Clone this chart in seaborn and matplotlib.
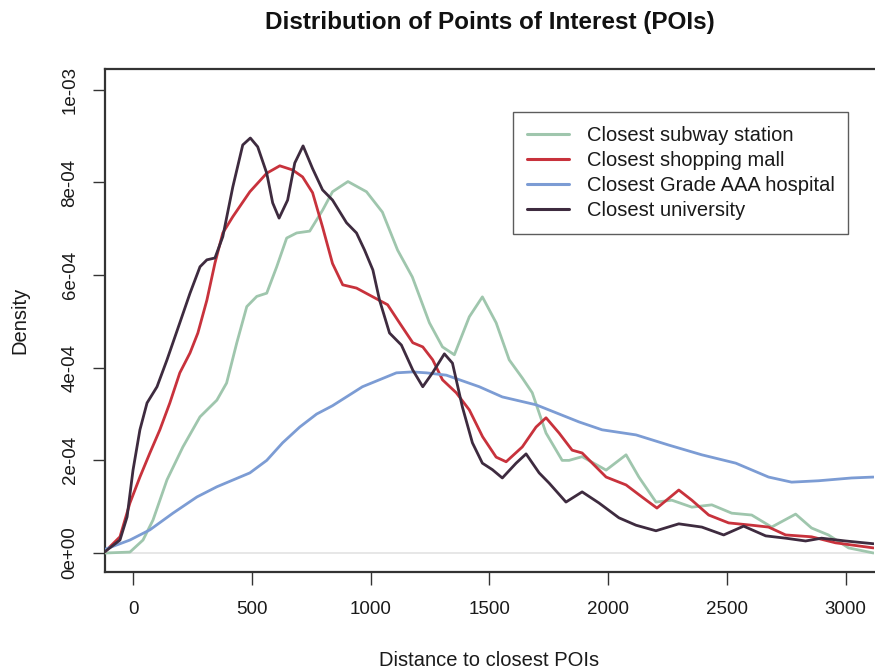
import matplotlib
matplotlib.use("Agg")
import matplotlib.pyplot as plt
import numpy as np
import pandas as pd
import seaborn as sns

# ---- data (density values in units of 1e-4) ----
series_names = ["Closest subway station", "Closest shopping mall",
                "Closest Grade AAA hospital", "Closest university"]

subway_x = [-118, -13, 42, 84, 143, 210, 282, 353, 394, 437, 479, 521, 563, 605, 647, 689,
            744, 798, 840, 905, 983, 1050, 1114, 1176, 1248, 1303, 1353, 1416,
            1471, 1529, 1584, 1639, 1681, 1739, 1807, 1836, 1891, 1992, 2076, 2130,
            2202, 2269, 2353, 2437, 2521, 2605, 2689, 2790, 2857, 2928, 3013, 3118]
subway_y = [0.0, 0.02, 0.28, 0.71, 1.58, 2.29, 2.94, 3.3, 3.67, 4.54, 5.32, 5.54, 5.61, 6.18,
            6.8, 6.91, 6.95, 7.4, 7.8, 8.02, 7.8, 7.36, 6.54, 5.96, 4.97, 4.45, 4.28, 5.1,
            5.53, 4.97, 4.17, 3.78, 3.46, 2.59, 2.0, 2.0, 2.08, 1.79, 2.12, 1.64,
            1.1, 1.14, 0.99, 1.04, 0.86, 0.82, 0.56, 0.84, 0.54, 0.39, 0.11, 0.0]

mall_x = [-118, -55, -13, 29, 71, 113, 155, 197, 240, 273, 311, 345, 378, 420, 492, 563, 618,
          672, 714, 756, 798, 840, 883, 941, 1010, 1072, 1122, 1178, 1220, 1262, 1303, 1361,
          1416, 1472, 1529, 1571, 1639, 1697, 1739, 1794, 1849, 1891, 1992, 2076, 2143, 2206,
          2298, 2353, 2424, 2508, 2605, 2676, 2748, 2857, 2958, 3118]
mall_y = [0.03, 0.35, 1.08, 1.64, 2.16, 2.66, 3.24, 3.89, 4.32, 4.75, 5.46, 6.26, 6.91, 7.26,
          7.8, 8.2, 8.36, 8.27, 8.12, 7.78, 7.04, 6.25, 5.79, 5.72, 5.53, 5.36, 4.97, 4.54,
          4.45, 4.17, 3.74, 3.46, 3.09, 2.51, 2.07, 1.97, 2.29, 2.72, 2.92, 2.59, 2.22, 2.16,
          1.64, 1.47, 1.21, 0.97, 1.36, 1.14, 0.82, 0.65, 0.6, 0.56, 0.39, 0.35, 0.22, 0.11]

hospital_x = [-118, -13, 71, 168, 269, 353, 492, 563, 630, 702, 773, 840, 966, 1109, 1176,
              1235, 1319, 1458, 1555, 1697, 1878, 1975, 2118, 2256, 2395, 2538, 2676,
              2773, 2887, 3025, 3118]
hospital_y = [0.08, 0.28, 0.5, 0.86, 1.21, 1.43, 1.73, 2.0, 2.38, 2.72, 3.0, 3.18, 3.59, 3.89,
              3.91, 3.89, 3.84, 3.59, 3.37, 3.2, 2.83, 2.66, 2.55, 2.33, 2.12, 1.94, 1.64,
              1.53, 1.56, 1.62, 1.64]

university_x = [-118, -55, -25, 0, 29, 59, 101, 143, 197, 240, 282, 311, 345, 378, 420, 462,
                494, 525, 563, 588, 615, 651, 681, 716, 756, 798, 840, 899, 941, 975, 1010,
                1038, 1080, 1130, 1178, 1220, 1261, 1311, 1345, 1387, 1429, 1471, 1513, 1555,
                1613, 1655, 1710, 1752, 1823, 1891, 1962, 2046, 2118, 2202, 2298, 2395, 2487,
                2571, 2664, 2748, 2832, 2899, 3000, 3118]
university_y = [0.03, 0.28, 0.78, 1.79, 2.66, 3.24, 3.59, 4.17, 4.97, 5.61, 6.18, 6.33, 6.37,
                6.83, 7.9, 8.81, 8.96, 8.77, 8.2, 7.56, 7.23, 7.62, 8.42, 8.79, 8.3, 7.84, 7.62,
                7.13, 6.91, 6.54, 6.11, 5.46, 4.75, 4.49, 3.95, 3.59, 3.89, 4.3, 4.1, 3.15,
                2.38, 1.94, 1.8, 1.62, 1.94, 2.14, 1.73, 1.51, 1.1, 1.32, 1.08, 0.76, 0.6,
                0.48, 0.63, 0.56, 0.39, 0.58, 0.37, 0.32, 0.26, 0.32, 0.26, 0.2]

x_ticks = [0, 500, 1000, 1500, 2000, 2500, 3000]
y_ticks = [0.0, 2e-4, 4e-4, 6e-4, 8e-4, 1e-3]
y_tick_labels = ["0e+00", "2e-04", "4e-04", "6e-04", "8e-04", "1e-03"]
colors = ["#9fc6ad", "#c8323c", "#7c9cd4", "#3e2b3f"]

# ---- table ----
frames = []
for name, xs, ys in zip(series_names,
                        [subway_x, mall_x, hospital_x, university_x],
                        [subway_y, mall_y, hospital_y, university_y]):
    frames.append(pd.DataFrame({"distance": xs,
                                "density": np.array(ys) * 1e-4,
                                "POI": name}))
df = pd.concat(frames, ignore_index=True)

# ---- style ----
sns.set_style("white")
plt.rcParams["font.family"] = ["Liberation Sans", "DejaVu Sans"]
fs_tick, fs_lab, fs_title, fs_leg = 13.5, 14.5, 17.5, 14.5
txt_col = "#1a1a1a"

fig = plt.figure(figsize=(8.75, 6.71), dpi=100)
ax = fig.add_axes([105 / 875, 1 - 572 / 671, (874 - 105) / 875, (572 - 69) / 671])

ax.axhline(0, color="#e3e3e3", lw=1.2, zorder=1)

sns.lineplot(data=df, x="distance", y="density", hue="POI", hue_order=series_names,
             palette=colors, estimator=None, lw=2.0, ax=ax, zorder=3,
             solid_joinstyle="round", solid_capstyle="round")

ax.set_xlim(-118, 3120)
ax.set_ylim(-4.1e-5, 1.045e-3)
ax.set_xticks(x_ticks)
ax.set_xticklabels([str(t) for t in x_ticks], fontsize=fs_tick, color=txt_col)
ax.set_yticks(y_ticks)
ax.set_yticklabels(y_tick_labels, fontsize=fs_tick, rotation=90, va="center", color=txt_col)
ax.tick_params(axis="both", which="major", bottom=True, left=True, direction="out",
               length=9, width=1.0, color="#333333")
ax.tick_params(axis="x", pad=12)
ax.tick_params(axis="y", pad=10)

for side in ["left", "top", "bottom"]:
    ax.spines[side].set_color("#333333")
    ax.spines[side].set_linewidth(1.6)
ax.spines["right"].set_visible(False)

ax.set_xlabel("Distance to closest POIs", fontsize=fs_lab, color=txt_col, labelpad=24)
ax.set_ylabel("Density", fontsize=fs_lab, color=txt_col, labelpad=23)
fig.text(490 / 875, 1 - 22 / 671, "Distribution of Points of Interest (POIs)",
         ha="center", va="center", fontsize=fs_title, fontweight="bold", color="#111111")

leg = ax.legend(loc="upper left", bbox_to_anchor=(513 / 875, 1 - 112 / 671),
                bbox_transform=fig.transFigure, frameon=True, fancybox=False,
                edgecolor="#333333", fontsize=fs_leg, handlelength=2.1, handletextpad=0.85,
                borderpad=0.7, labelspacing=0.29, borderaxespad=0, title=None)
leg.get_frame().set_linewidth(1.0)
for t in leg.get_texts():
    t.set_color(txt_col)
for line in leg.get_lines():
    line.set_linewidth(2.2)

fig.savefig("out.png", dpi=100)
